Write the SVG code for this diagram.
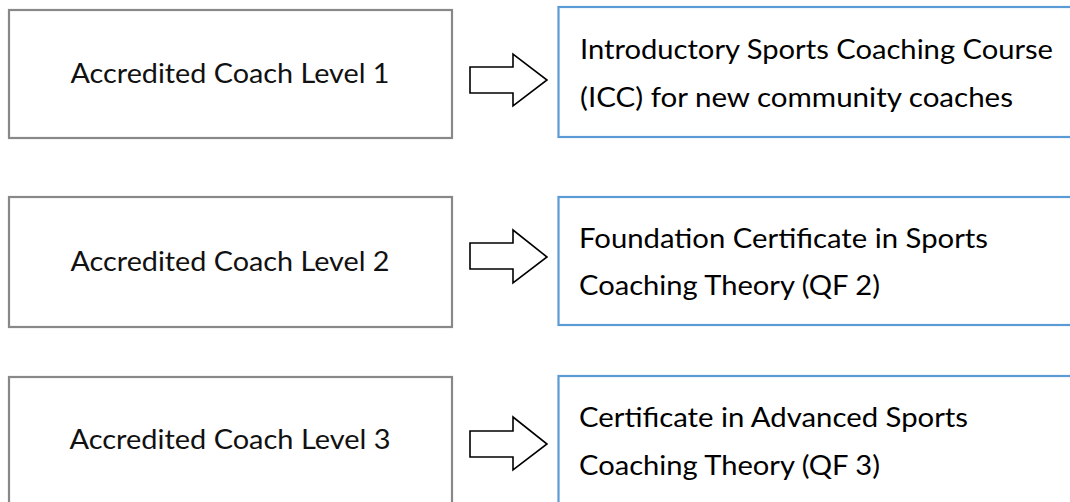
<svg xmlns="http://www.w3.org/2000/svg" width="1070" height="502" viewBox="0 0 1070 502">
<style>
.lbox{fill:#ffffff;stroke:#888888;stroke-width:2.2}
.rbox{fill:#ffffff;stroke:#5b9bd5;stroke-width:2.2}
.arr{fill:#ffffff;stroke:#000000;stroke-width:1.6;stroke-linejoin:miter}
text{font-family:"Lato","Open Sans","Liberation Sans",sans-serif;font-size:26px;fill:#000000}
.c{text-anchor:middle;fill:#111111}
</style>
<rect width="1070" height="502" fill="#ffffff"/>
<g id="level1">
<rect class="lbox" x="9" y="10" width="443" height="128"/>
<text class="c" x="230" y="83" textLength="319" lengthAdjust="spacingAndGlyphs">Accredited Coach Level 1</text>
</g>
<g id="course1">
<rect class="rbox" x="558.5" y="7" width="530" height="130"/>
<text x="580" y="59" textLength="473" lengthAdjust="spacingAndGlyphs">Introductory Sports Coaching Course</text>
<text x="580" y="107" textLength="433" lengthAdjust="spacingAndGlyphs">(ICC) for new community coaches</text>
</g>
<g id="level2">
<rect class="lbox" x="9" y="197" width="443" height="130"/>
<text class="c" x="230" y="271" textLength="319" lengthAdjust="spacingAndGlyphs">Accredited Coach Level 2</text>
</g>
<g id="course2">
<rect class="rbox" x="558.5" y="197" width="530" height="128"/>
<text x="579" y="248" textLength="409" lengthAdjust="spacingAndGlyphs">Foundation Certificate in Sports</text>
<text x="579" y="295" textLength="301" lengthAdjust="spacingAndGlyphs">Coaching Theory (QF 2)</text>
</g>
<g id="level3">
<rect class="lbox" x="9" y="377" width="443" height="140"/>
<text class="c" x="230" y="449" textLength="321" lengthAdjust="spacingAndGlyphs">Accredited Coach Level 3</text>
</g>
<g id="course3">
<rect class="rbox" x="558.5" y="376" width="530" height="140"/>
<text x="579" y="427" textLength="389" lengthAdjust="spacingAndGlyphs">Certificate in Advanced Sports</text>
<text x="579" y="475" textLength="301" lengthAdjust="spacingAndGlyphs">Coaching Theory (QF 3)</text>
</g>
<g id="connectors">
<polygon class="arr" points="470,67 513,67 513,54 547,80 513,106 513,93 470,93"/>
<polygon class="arr" points="470,243 513,243 513,230 547,257 513,283 513,269 470,269"/>
<polygon class="arr" points="470,431 513,431 513,417 547,444 513,470 513,457 470,457"/>
</g>
</svg>
